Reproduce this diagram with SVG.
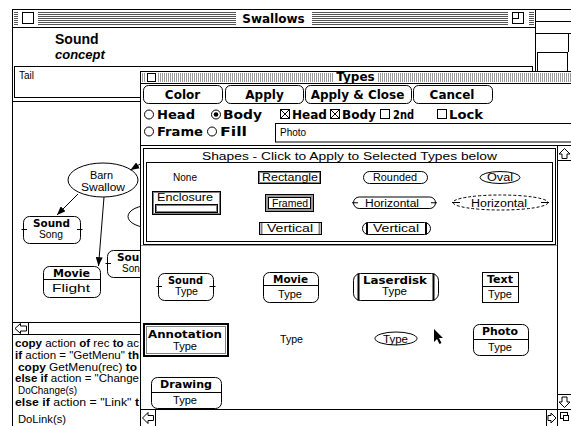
<svg xmlns="http://www.w3.org/2000/svg" width="571" height="426" viewBox="0 0 571 426">
<defs>
<style>
.ln{fill:none;stroke:#000;stroke-width:1}
.bx{fill:#fff;stroke:#000;stroke-width:1}
.gy{fill:none;stroke:#808080;stroke-width:1}
.ch{font-family:"DejaVu Sans",sans-serif;font-weight:bold;font-size:12px;fill:#000}
.cs{font-family:"DejaVu Sans",sans-serif;font-weight:bold;font-size:10.5px;fill:#000}
.gv{font-family:"Liberation Sans",Arial,sans-serif;font-size:10px;fill:#000}
.sc{font-family:"Liberation Sans",Arial,sans-serif;font-size:11px;fill:#000}
.b{font-weight:bold}
.m{text-anchor:middle}
.arw{fill:#fff;stroke:#000;stroke-width:1}
.tk{fill:none;stroke:#000;stroke-width:2}
</style>
<marker id="ah" viewBox="0 0 10 8" refX="10" refY="4" markerWidth="9" markerHeight="7" orient="auto" markerUnits="userSpaceOnUse"><path d="M0,0 L10,4 L0,8 Z" fill="#000"/></marker>
<pattern id="hst" width="4" height="2" patternUnits="userSpaceOnUse"><rect width="4" height="1" fill="#555"/></pattern>
<pattern id="vst" width="2" height="2" patternUnits="userSpaceOnUse"><rect width="1" height="2" fill="#999"/></pattern>
</defs>
<rect width="571" height="426" fill="#fff"/>

<g id="right-window">
<rect x="535.5" y="9.5" width="40" height="70" class="bx"/>
<line x1="535" y1="21.5" x2="571" y2="21.5" class="ln"/>
<line x1="535" y1="33.5" x2="571" y2="33.5" class="ln"/>
<line x1="568.5" y1="33" x2="568.5" y2="52" class="ln"/>
<rect x="537.5" y="52.5" width="30" height="20" class="bx"/>
<line x1="535" y1="73.5" x2="571" y2="73.5" class="ln"/>
</g>

<g id="swallows-window">
<rect x="12.5" y="9.5" width="523" height="430" class="bx"/>
<rect x="14" y="12" width="520" height="13" fill="url(#hst)"/>
<line x1="12" y1="27.5" x2="536" y2="27.5" class="ln"/>
<rect x="18" y="11" width="20" height="15" fill="#fff"/>
<rect x="22.5" y="12.5" width="11" height="11" class="bx"/>
<rect x="236" y="11" width="76" height="15" fill="#fff"/>
<text x="273.5" y="23" class="ch m">Swallows</text>
<rect x="508" y="11" width="21" height="15" fill="#fff"/>
<rect x="512.5" y="12.5" width="11" height="11" class="bx"/>
<rect x="512.5" y="12.5" width="6" height="6" class="bx"/>
<text x="55" y="44" font-family="Liberation Sans, Arial, sans-serif" font-weight="bold" font-size="14">Sound</text>
<text x="55" y="59" font-family="Liberation Sans, Arial, sans-serif" font-weight="bold" font-style="italic" font-size="13">concept</text>
<rect x="14.5" y="66.5" width="518" height="31" class="bx"/>
<text x="19" y="79" class="gv" font-size="9">Tail</text>
<line x1="12" y1="101.5" x2="536" y2="101.5" class="ln"/>
<line x1="12" y1="322.5" x2="140" y2="322.5" class="ln"/>
<line x1="12" y1="334.5" x2="140" y2="334.5" class="ln"/>
<line x1="28.5" y1="322" x2="28.5" y2="335" class="ln"/>
<polygon points="15,328.5 20.5,323.5 20.5,326 26.5,326 26.5,331 20.5,331 20.5,333.5" class="arw"/>
<text x="15" y="347" class="sc" textLength="124" lengthAdjust="spacingAndGlyphs"><tspan class="b">copy</tspan> action <tspan class="b">of</tspan> rec <tspan class="b">to</tspan> ac</text>
<text x="15" y="359" class="sc" textLength="124" lengthAdjust="spacingAndGlyphs"><tspan class="b">if</tspan> action = "GetMenu" <tspan class="b">th</tspan></text>
<text x="18" y="371" class="sc" textLength="119" lengthAdjust="spacingAndGlyphs"><tspan class="b">copy</tspan> GetMenu(rec) <tspan class="b">to</tspan></text>
<text x="15" y="382" class="sc" textLength="124" lengthAdjust="spacingAndGlyphs"><tspan class="b">else if</tspan> action = "Change</text>
<text x="18" y="394" class="sc" textLength="59" lengthAdjust="spacingAndGlyphs">DoChange(s)</text>
<text x="15" y="406" class="sc" textLength="124" lengthAdjust="spacingAndGlyphs"><tspan class="b">else if</tspan> action = "Link" <tspan class="b">t</tspan></text>
<text x="18" y="423" class="sc" textLength="48" lengthAdjust="spacingAndGlyphs">DoLink(s)</text>
</g>

<g id="node-barn-swallow">
<ellipse cx="103" cy="180" rx="35" ry="17" class="bx"/>
<text x="101.5" y="179" class="gv m" textLength="23" lengthAdjust="spacingAndGlyphs">Barn</text>
<text x="103" y="191" class="gv m" textLength="44" lengthAdjust="spacingAndGlyphs">Swallow</text>
</g>
<g id="node-sound-song">
<rect x="23.5" y="216.5" width="57" height="27" rx="6" class="bx"/>
<line x1="21.5" y1="229.5" x2="27" y2="229.5" class="ln"/>
<line x1="77" y1="229.5" x2="82.5" y2="229.5" class="ln"/>
<text x="51.5" y="227" class="cs m" textLength="37" lengthAdjust="spacingAndGlyphs">Sound</text>
<text x="51" y="238" class="gv m" textLength="24" lengthAdjust="spacingAndGlyphs">Song</text>
</g>
<g id="node-movie-flight">
<rect x="43.5" y="266.5" width="57" height="31" rx="6" class="bx"/>
<line x1="43.5" y1="279.5" x2="100.5" y2="279.5" class="ln"/>
<text x="71.5" y="277" class="cs m" textLength="37" lengthAdjust="spacingAndGlyphs">Movie</text>
<text x="71" y="292" class="gv m" textLength="38" lengthAdjust="spacingAndGlyphs">Flight</text>
</g>
<g id="node-sound-song-2">
<rect x="107.5" y="250.5" width="57" height="27" rx="6" class="bx"/>
<line x1="105.5" y1="263.5" x2="111" y2="263.5" class="ln"/>
<text x="117" y="261" class="cs">Sou</text>
<text x="122" y="272" class="gv">Son</text>
</g>
<g id="node-hidden-oval">
<ellipse cx="152" cy="216.5" rx="24" ry="11.5" class="bx"/>
</g>

<g id="connectors">
<line x1="141" y1="163.5" x2="130.5" y2="170" class="ln" marker-end="url(#ah)"/>
<line x1="78" y1="194" x2="57" y2="215" class="ln" marker-end="url(#ah)"/>
<line x1="104" y1="197" x2="98.5" y2="266" class="ln" marker-end="url(#ah)"/>
</g>

<g id="types-window">
<rect x="140.5" y="71.5" width="440" height="360" class="bx"/>
<rect x="142" y="73" width="429" height="9" fill="url(#vst)"/>
<line x1="140" y1="83.5" x2="571" y2="83.5" class="ln"/>
<rect x="145" y="72" width="13" height="11" fill="#fff"/>
<rect x="147.5" y="73.5" width="8" height="8" class="bx"/>
<rect x="334" y="72" width="43" height="11" fill="#fff"/>
<text x="355.5" y="81" class="ch m" font-size="10">Types</text>

<g id="btn-color"><rect x="143.5" y="85.5" width="79" height="18" rx="5" class="bx"/><text x="182.5" y="99" class="ch m">Color</text></g>
<g id="btn-apply"><rect x="225.5" y="85.5" width="78" height="18" rx="5" class="bx"/><text x="264.5" y="99" class="ch m">Apply</text></g>
<g id="btn-apply-close"><rect x="305.5" y="85.5" width="106" height="18" rx="5" class="bx"/><text x="357.5" y="99" class="ch m">Apply &amp; Close</text></g>
<g id="btn-cancel"><rect x="413.5" y="85.5" width="79" height="18" rx="5" class="bx"/><text x="452" y="99" class="ch m">Cancel</text></g>

<circle cx="149" cy="114.5" r="4.5" class="bx"/>
<text x="157" y="119" class="ch" font-size="13" textLength="38" lengthAdjust="spacingAndGlyphs">Head</text>
<circle cx="216" cy="114.5" r="4.5" class="bx"/>
<circle cx="216" cy="114.5" r="2.3" fill="#000"/>
<text x="223" y="119" class="ch" font-size="13" textLength="39" lengthAdjust="spacingAndGlyphs">Body</text>
<rect x="280.5" y="109.5" width="9" height="9" class="bx"/>
<path d="M280.5,109.5 L289.5,118.5 M289.5,109.5 L280.5,118.5" class="ln"/>
<text x="292" y="119" class="ch" font-size="13" textLength="35" lengthAdjust="spacingAndGlyphs">Head</text>
<rect x="330.5" y="109.5" width="9" height="9" class="bx"/>
<path d="M330.5,109.5 L339.5,118.5 M339.5,109.5 L330.5,118.5" class="ln"/>
<text x="342" y="119" class="ch" font-size="13" textLength="34" lengthAdjust="spacingAndGlyphs">Body</text>
<rect x="380.5" y="109.5" width="9" height="9" class="bx"/>
<text x="393" y="119" class="ch" font-size="13" textLength="21" lengthAdjust="spacingAndGlyphs">2nd</text>
<rect x="437.5" y="109.5" width="9" height="9" class="bx"/>
<text x="449" y="119" class="ch" font-size="13" textLength="34" lengthAdjust="spacingAndGlyphs">Lock</text>
<circle cx="149" cy="131.5" r="4.5" class="bx"/>
<text x="157" y="136" class="ch" font-size="13" textLength="46" lengthAdjust="spacingAndGlyphs">Frame</text>
<circle cx="212" cy="131.5" r="4.5" class="bx"/>
<text x="220" y="136" class="ch" font-size="13" textLength="27" lengthAdjust="spacingAndGlyphs">Fill</text>
<rect x="275.5" y="123.5" width="300" height="18.5" class="bx"/>
<text x="280" y="136" class="gv" font-size="9.5">Photo</text>
<line x1="140" y1="145.5" x2="571" y2="145.5" class="ln"/>

<g id="shapes-panel">
<rect x="143.5" y="148.5" width="412" height="96" class="bx"/>
<rect x="146.5" y="162.5" width="406" height="79" class="bx"/>
<text x="349.5" y="160" class="gv m" textLength="295" lengthAdjust="spacingAndGlyphs">Shapes - Click to Apply to Selected Types below</text>
</g>
<g id="shape-none"><text x="185" y="181" class="gv m" textLength="24" lengthAdjust="spacingAndGlyphs">None</text></g>
<g id="shape-rectangle">
<rect x="258.5" y="171.5" width="62" height="12" class="bx"/>
<rect x="259.5" y="172.5" width="60" height="10" class="gy"/>
<text x="290" y="181" class="gv m" textLength="56" lengthAdjust="spacingAndGlyphs">Rectangle</text>
</g>
<g id="shape-rounded">
<rect x="363.5" y="171.5" width="64" height="12" rx="6" class="bx"/>
<text x="395" y="181" class="gv m" textLength="44" lengthAdjust="spacingAndGlyphs">Rounded</text>
</g>
<g id="shape-oval">
<ellipse cx="500" cy="177.5" rx="20" ry="6" class="bx"/>
<text x="500" y="181" class="gv m" textLength="26" lengthAdjust="spacingAndGlyphs">Oval</text>
</g>
<g id="shape-enclosure">
<rect x="152.5" y="191.5" width="68" height="23" class="bx"/>
<rect x="153.5" y="192.5" width="66" height="21" class="gy"/>
<rect x="155.5" y="204.5" width="62" height="8" class="bx"/>
<rect x="156.5" y="205.5" width="60" height="6" class="gy"/>
<text x="185" y="201" class="gv m" textLength="56" lengthAdjust="spacingAndGlyphs">Enclosure</text>
</g>
<g id="shape-framed">
<rect x="265.5" y="194.5" width="48" height="17" fill="#999" stroke="#000"/>
<rect x="268.5" y="197.5" width="42" height="11" class="bx"/>
<text x="290" y="206.5" class="gv m" textLength="36" lengthAdjust="spacingAndGlyphs">Framed</text>
</g>
<g id="shape-horizontal">
<rect x="353.5" y="197" width="82" height="11.5" rx="5.75" class="bx"/>
<line x1="352" y1="202.75" x2="358" y2="202.75" class="ln"/>
<line x1="431" y1="202.75" x2="437" y2="202.75" class="ln"/>
<text x="392" y="206.5" class="gv m" textLength="54" lengthAdjust="spacingAndGlyphs">Horizontal</text>
</g>
<g id="shape-horizontal-oval">
<ellipse cx="500.5" cy="202.5" rx="47.5" ry="7.5" fill="#fff" stroke="#000" stroke-dasharray="3,2"/>
<line x1="452" y1="202.5" x2="460" y2="202.5" class="ln"/>
<line x1="541" y1="202.5" x2="549" y2="202.5" class="ln"/>
<text x="499" y="206.5" class="gv m" textLength="56" lengthAdjust="spacingAndGlyphs">Horizontal</text>
</g>
<g id="shape-vertical">
<rect x="259.5" y="222.5" width="62" height="12" class="bx"/>
<line x1="261.5" y1="223" x2="261.5" y2="234" stroke="#808080" stroke-width="2"/>
<line x1="319.5" y1="223" x2="319.5" y2="234" stroke="#808080" stroke-width="2"/>
<text x="290" y="232" class="gv m" textLength="46" lengthAdjust="spacingAndGlyphs">Vertical</text>
</g>
<g id="shape-vertical-rounded">
<rect x="362.5" y="222.5" width="68" height="12" rx="6" class="bx"/>
<line x1="367" y1="222.5" x2="367" y2="234.5" class="tk"/>
<line x1="426" y1="222.5" x2="426" y2="234.5" class="tk"/>
<text x="396" y="232" class="gv m" textLength="46" lengthAdjust="spacingAndGlyphs">Vertical</text>
</g>
<line x1="141" y1="245.5" x2="557" y2="245.5" stroke="#999" stroke-width="1"/>

<g id="type-sound">
<rect x="158.5" y="273.5" width="55" height="27" rx="6" class="bx"/>
<line x1="156.5" y1="286.5" x2="162" y2="286.5" class="ln"/>
<line x1="209.5" y1="286.5" x2="215.5" y2="286.5" class="ln"/>
<text x="185.5" y="284" class="cs m" textLength="35" lengthAdjust="spacingAndGlyphs">Sound</text>
<text x="186.5" y="295" class="gv m" textLength="23" lengthAdjust="spacingAndGlyphs">Type</text>
</g>
<g id="type-movie">
<rect x="263.5" y="272.5" width="55" height="30" rx="6" class="bx"/>
<line x1="263.5" y1="285.5" x2="318.5" y2="285.5" class="ln"/>
<text x="290.5" y="282.5" class="cs m" textLength="35" lengthAdjust="spacingAndGlyphs">Movie</text>
<text x="290" y="298" class="gv m" textLength="24" lengthAdjust="spacingAndGlyphs">Type</text>
</g>
<g id="type-laserdisk">
<rect x="353.5" y="273.5" width="85" height="27" rx="7" class="bx"/>
<line x1="358.5" y1="273.5" x2="358.5" y2="300.5" class="tk"/>
<line x1="433.5" y1="273.5" x2="433.5" y2="300.5" class="tk"/>
<text x="395" y="284" class="cs m" textLength="64" lengthAdjust="spacingAndGlyphs">Laserdisk</text>
<text x="394.5" y="295" class="gv m" textLength="25" lengthAdjust="spacingAndGlyphs">Type</text>
</g>
<g id="type-text">
<rect x="482.5" y="272.5" width="36" height="30" class="bx"/>
<line x1="482.5" y1="286.5" x2="518.5" y2="286.5" class="ln"/>
<text x="500" y="283" class="cs m" textLength="26" lengthAdjust="spacingAndGlyphs">Text</text>
<text x="500" y="298" class="gv m" textLength="24" lengthAdjust="spacingAndGlyphs">Type</text>
</g>
<g id="type-annotation">
<rect x="144" y="324" width="84" height="32" fill="#fff" stroke="#000" stroke-width="2"/>
<rect x="146.5" y="326.5" width="79" height="27" class="gy"/>
<text x="185" y="337.5" class="cs m" textLength="74" lengthAdjust="spacingAndGlyphs">Annotation</text>
<text x="185" y="350" class="gv m" textLength="24" lengthAdjust="spacingAndGlyphs">Type</text>
</g>
<g id="type-plain">
<text x="291.5" y="342.5" class="gv m" textLength="23" lengthAdjust="spacingAndGlyphs">Type</text>
</g>
<g id="type-oval">
<ellipse cx="396" cy="338.5" rx="21" ry="6.5" class="bx"/>
<text x="395.5" y="342.5" class="gv m" textLength="25" lengthAdjust="spacingAndGlyphs">Type</text>
</g>
<g id="type-photo">
<rect x="473.5" y="324.5" width="55" height="31" rx="6" class="bx"/>
<line x1="473.5" y1="339.5" x2="528.5" y2="339.5" class="ln"/>
<text x="500" y="335" class="cs m" textLength="36" lengthAdjust="spacingAndGlyphs">Photo</text>
<text x="500" y="351" class="gv m" textLength="24" lengthAdjust="spacingAndGlyphs">Type</text>
</g>
<g id="type-drawing">
<rect x="151.5" y="377.5" width="70" height="31" rx="6" class="bx"/>
<line x1="151.5" y1="392.5" x2="221.5" y2="392.5" class="ln"/>
<text x="186" y="388" class="cs m" textLength="52" lengthAdjust="spacingAndGlyphs">Drawing</text>
<text x="185" y="404" class="gv m" textLength="24" lengthAdjust="spacingAndGlyphs">Type</text>
</g>
<path d="M434,329 L434,342 L437,339 L439.5,344 L441.5,343 L439,338 L443,338 Z" fill="#000"/>

<g id="scrollbars">
<line x1="557.5" y1="146" x2="557.5" y2="426" class="ln"/>
<line x1="557" y1="160.5" x2="571" y2="160.5" class="ln"/>
<polygon points="564.5,148.5 570,154 567,154 567,158.5 562,158.5 562,154 559,154" class="arw"/>
<line x1="557" y1="394.5" x2="571" y2="394.5" class="ln"/>
<polygon points="564.5,407.5 570,402 567,402 567,397 562,397 562,402 559,402" class="arw"/>
<line x1="140" y1="409.5" x2="571" y2="409.5" class="ln"/>
<line x1="155.5" y1="410" x2="155.5" y2="426" class="ln"/>
<polygon points="142.5,418 148,412.5 148,415.5 153.5,415.5 153.5,420.5 148,420.5 148,423.5" class="arw"/>
<line x1="546.5" y1="410" x2="546.5" y2="426" class="ln"/>
<polygon points="556,418 551,413 551,415.5 548,415.5 548,420.5 551,420.5 551,423" class="arw"/>
<rect x="560.5" y="412.5" width="7" height="6" class="bx"/>
<rect x="563.5" y="415.5" width="5" height="5" class="bx"/>
</g>
</g>
</svg>
